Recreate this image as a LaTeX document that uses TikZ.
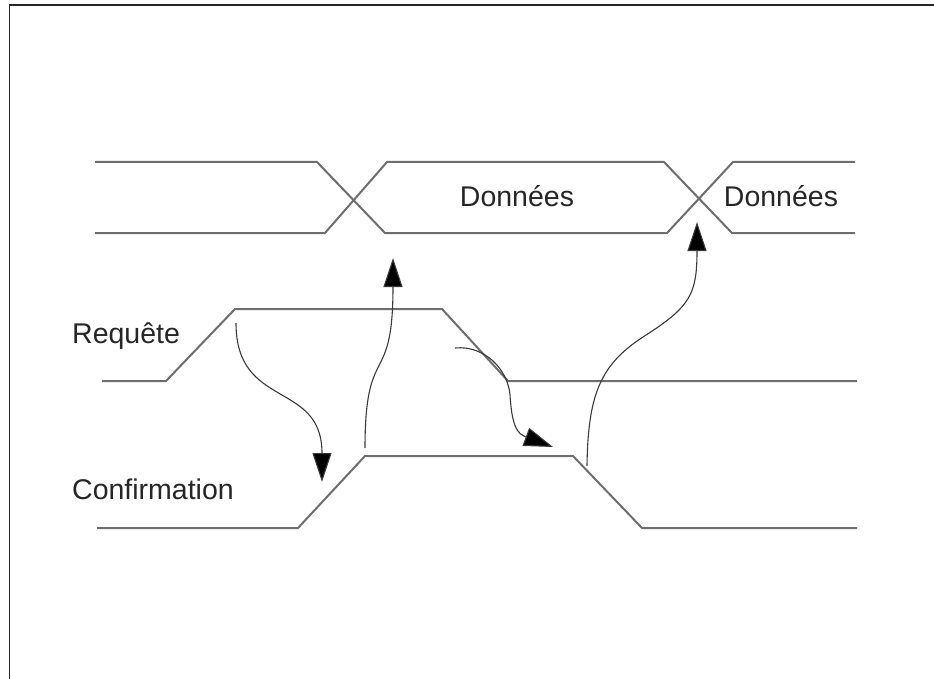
\documentclass[tikz,border=0pt]{standalone}
\usepackage{fontspec}
\setmainfont{Liberation Sans}
\usetikzlibrary{arrows.meta}
\definecolor{sigcol}{HTML}{6E6E6E}
\definecolor{arrcol}{HTML}{3A3A3A}
\definecolor{txtcol}{HTML}{262626}
\begin{document}
\begin{tikzpicture}[x=1pt,y=-1pt,
  signal/.style={draw=sigcol,line width=2pt,line join=miter},
  cause/.style={draw=arrcol,line width=1.1pt,
    -{Triangle[length=29pt,width=19pt,fill=black]}},
  label/.style={text=txtcol,inner sep=0pt,font=\fontsize{28.5}{34}\selectfont},
  frameline/.style={draw=black!85,line width=1.6pt}]
\useasboundingbox (0,0) rectangle (934,679);
\fill[white] (0,0) rectangle (934,679);
% outer frame (left and top edges)
\draw[frameline] (9.5,679) -- (9.5,5) -- (934,5);

% data bus: two crossing lines
\draw[signal] (95,162) -- (317,162) -- (385,233) -- (667,233) -- (733,162) -- (855,162);
\draw[signal] (95,233) -- (325,233) -- (387,162) -- (664,162) -- (732,233) -- (855,233);
\node[label,anchor=base] (d1) at (517,207) {Données};
\node[label,anchor=base] (d2) at (781,207) {Données};

% request line
\draw[signal] (102,381) -- (166,381) -- (235,309) -- (442,309) -- (508,381) -- (857,381);
\node[label,anchor=base west] (req) at (72,343) {Requête};

% acknowledge line
\draw[signal] (97,528) -- (298,528) -- (365,456) -- (573,456) -- (642,528) -- (857,528);
\node[label,anchor=base west] (ack) at (72,499) {Confirmation};

% causality arrows
\coordinate (a1s) at (236,323);
\coordinate (a1e) at (322,482);
\coordinate (a2s) at (365,448);
\coordinate (a2e) at (393,258);
\coordinate (a3s) at (455,348);
\coordinate (a3e) at (553,447);
\coordinate (a4s) at (587,466);
\coordinate (a4m) at (643,337);
\coordinate (a4e) at (697,222);

\draw[cause] (a1s) .. controls (236,410) and (322,380) .. (a1e);
\draw[cause] (a2s) .. controls (365,340) and (393,390) .. (a2e);
\draw[cause] (a3s) .. controls (485,345) and (508,370) .. (510,395)
  .. controls (512,428) and (518,434) .. (a3e);
\draw[cause] (a4s) .. controls (588,395) and (600,365) .. (a4m)
  .. controls (690,307) and (697,295) .. (a4e);
\end{tikzpicture}
\end{document}
